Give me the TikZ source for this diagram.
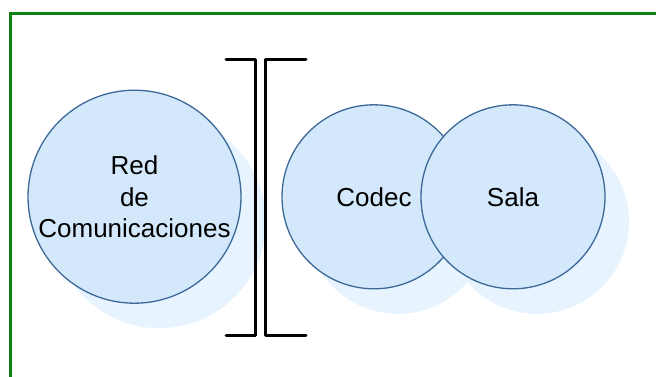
\documentclass[tikz,border=0pt]{standalone}
\usepackage{fontspec}
\setmainfont{Liberation Sans}
\usepackage{xcolor}
\usetikzlibrary{positioning,backgrounds}

\definecolor{framegreen}{RGB}{16,130,16}
\definecolor{ballfill}{RGB}{212,232,252}
\definecolor{balldraw}{RGB}{60,105,152}
\definecolor{ballshadow}{RGB}{231,243,254}

\begin{document}
\begin{tikzpicture}[
    x=1pt, y=-1pt,
    ball/.style={circle, draw=balldraw, line width=1.3pt, fill=ballfill, inner sep=0pt, align=center, font=\fontsize{26}{31.6}\selectfont},
    bracket/.style={line width=3pt, line cap=round, line join=round},
    frame/.style={draw=framegreen, line width=3pt}
]
    \useasboundingbox (0,0) rectangle (656,376);
    \draw[frame] (10,13.5) rectangle (700,420);

    \node[ball, minimum size=213pt] (red) at (134.5,196.7) {Red\\de\\Comunicaciones};
    \node[ball, minimum size=184pt] (codec) at (374,196.8) {Codec};
    \node[ball, minimum size=184pt] (sala) at (513,196.8) {Sala};

    % shadows behind the balls
    \begin{scope}[on background layer]
        \fill[ballshadow] ([shift={(25,25)}]red.center) circle (106.5);
        \fill[ballshadow] ([shift={(24,25)}]codec.center) circle (92);
        \fill[ballshadow] ([shift={(24,25)}]sala.center) circle (92);
    \end{scope}

    \draw[bracket] (226,59.3) -- (255,59.3) -- (255,335) -- (226,335);
    \draw[bracket] (306,59.3) -- (265,59.3) -- (265,335) -- (306,335);
\end{tikzpicture}
\end{document}
